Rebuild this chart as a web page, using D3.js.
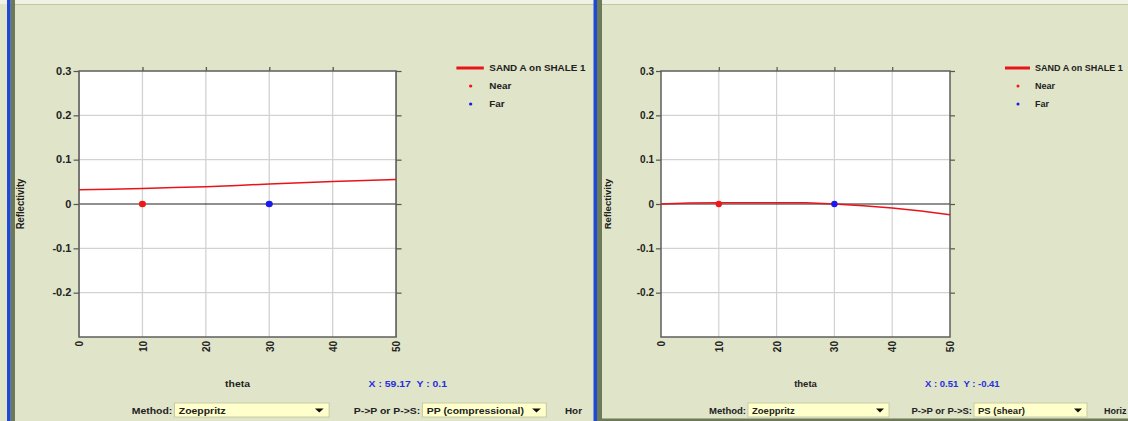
<!DOCTYPE html>
<html><head><meta charset="utf-8">
<script src="https://cdn.jsdelivr.net/npm/d3@7"></script>
<style>
body{margin:0;background:#E0E4C8;}
svg{display:block;}
text{font-family:"Liberation Sans",Arial,sans-serif;font-weight:bold;}
</style>
</head><body>
<svg id="c" width="1128" height="421"></svg>
<script>
// ---- data ----
const thetaDeg = [0,5,10,15,20,25,30,35,40,45,50];
const ppReflectivity = [0.032,0.033,0.035,0.037,0.039,0.042,0.045,0.048,0.051,0.053,0.055];
const psReflectivity = [0.000,0.002,0.003,0.003,0.003,0.003,0.000,-0.004,-0.009,-0.016,-0.024];
const nearTheta = 10, farTheta = 30;
const nearFarReflectivity = [0, 0];
const xTickValues = [0,10,20,30,40,50];
const yTickValues = [0.3,0.2,0.1,0,-0.1,-0.2];
const legendLabels = ["SAND A on SHALE 1","Near","Far"];
const cursorReadouts = ["X : 59.17  Y : 0.1","X : 0.51  Y : -0.41"];
const waveModes = ["PP (compressional)","PS (shear)"];
const methodName = "Zoeppritz";
const trailingLabels = ["Hor","Horiz"];

const svg = d3.select("#c");
const BG = "#E0E4C8";
svg.append("rect").attr("width",1128).attr("height",421).attr("fill",BG);
// top tab strip
svg.append("rect").attr("x",0).attr("y",0).attr("width",1128).attr("height",4).attr("fill","#F1F2E6");
svg.append("line").attr("x1",15).attr("x2",1128).attr("y1",4.5).attr("y2",4.5).attr("stroke","#C3C79C").attr("stroke-width",1);

const fmt = d => d === 0 ? "0" : String(d);

function drawPanel(g, id, values, readout, mode, trailing) {
  const root = g.append("g");
  const x = d3.scaleLinear().domain([0,50]).range([59,348]);
  const y = d3.scaleLinear().domain([-0.3,0.3]).range([337,71]);
  const [x0,x1] = x.range(), [y0,y1] = y.range();

  root.append("rect").attr("x",x0).attr("y",y1).attr("width",x1-x0).attr("height",y0-y1).attr("fill","#fff");
  // grid
  root.append("g").selectAll("line").data(xTickValues.slice(1,-1)).join("line")
    .attr("x1",d=>x(d)).attr("x2",d=>x(d)).attr("y1",y1).attr("y2",y0)
    .attr("stroke","#D2D2D2").attr("stroke-width",1.2);
  root.append("g").selectAll("line").data(yTickValues.filter(d=>d!==0.3)).join("line")
    .attr("x1",x0).attr("x2",x1).attr("y1",d=>y(d)).attr("y2",d=>y(d))
    .attr("stroke",d=>d===0?"#222":"#D2D2D2").attr("stroke-width",d=>d===0?1:1.2);

  // axes
  const styleAxis = a => { a.select(".domain").remove(); a.selectAll("line").attr("stroke","#555").attr("stroke-width",1.2); };
  const left = root.append("g").attr("transform",`translate(${x0},0)`)
    .call(d3.axisLeft(y).tickValues(yTickValues).tickSize(5).tickPadding(2).tickFormat(fmt));
  styleAxis(left);
  left.selectAll("text").attr("fill","#222").style("font-size","10px");
  const right = root.append("g").attr("transform",`translate(${x1},0)`)
    .call(d3.axisRight(y).tickValues(yTickValues).tickSize(5).tickFormat(""));
  styleAxis(right);
  const top = root.append("g").attr("transform",`translate(0,${y1})`)
    .call(d3.axisTop(x).tickValues(xTickValues.slice(1,-1)).tickSize(4).tickFormat(""));
  styleAxis(top);
  const bottom = root.append("g").attr("transform",`translate(0,${y0})`)
    .call(d3.axisBottom(x).tickValues(xTickValues).tickSize(0).tickFormat(fmt));
  styleAxis(bottom);
  bottom.selectAll("text").attr("transform","rotate(-90)").attr("x",-4).attr("y",0).attr("dy","0.35em")
    .style("text-anchor","end").attr("fill","#222").style("font-size","10px");

  // plot border
  root.append("rect").attr("x",x0).attr("y",y1).attr("width",x1-x0).attr("height",y0-y1)
    .attr("fill","none").attr("stroke","#5E5E5E").attr("stroke-width",1.5);

  // curve
  const line = d3.line().x((d,i)=>x(thetaDeg[i])).y(d=>y(d));
  root.append("path").datum(values).attr("d",line).attr("fill","none").attr("stroke","#E8141B").attr("stroke-width",1.5);
  // near/far points
  root.append("circle").attr("cx",x(nearTheta)).attr("cy",y(nearFarReflectivity[0])).attr("r",3.2).attr("fill","#F01818");
  root.append("circle").attr("cx",x(farTheta)).attr("cy",y(nearFarReflectivity[1])).attr("r",3.2).attr("fill","#1A1AF0");

  // y label
  root.append("text").attr("transform",`translate(9,${y(0)}) rotate(-90)`).attr("text-anchor","middle")
    .style("font-size","9.5px").attr("fill","#222").text("Reflectivity");
  // x label
  root.append("text").attr("x",(x0+x1)/2).attr("y",387).attr("text-anchor","middle")
    .style("font-size","9.5px").attr("fill","#222").text("theta");
  // readout
  root.append("text").attr("x",323).attr("y",387).style("font-size","9.5px").attr("fill","#2430E0")
    .attr("xml:space","preserve").text(readout);

  // legend
  const lg = root.append("g");
  lg.append("line").attr("x1",403).attr("x2",428).attr("y1",68).attr("y2",68).attr("stroke","#E8141B").attr("stroke-width",3);
  lg.append("circle").attr("cx",416).attr("cy",86).attr("r",1.5).attr("fill","#F01818");
  lg.append("circle").attr("cx",416).attr("cy",104).attr("r",1.5).attr("fill","#1A1AF0");
  lg.selectAll("text").data(legendLabels).join("text")
    .attr("x",433).attr("y",(d,i)=>71+i*18).style("font-size","9px").attr("fill","#222").text(d=>d);

  // controls
  const ctl = root.append("g");
  ctl.append("text").attr("x",144).attr("y",414).attr("text-anchor","end").style("font-size","9.5px").attr("fill","#222").text("Method:");
  ctl.append("text").attr("x",370).attr("y",414).attr("text-anchor","end").style("font-size","9.5px").attr("fill","#222").text("P->P or P->S:");
  const boxes = [{x:146,w:141,t:methodName},{x:372,w:113,t:mode}];
  boxes.forEach(b=>{
    ctl.append("rect").attr("x",b.x).attr("y",403).attr("width",b.w).attr("height",14).attr("fill","#FFFFCC").attr("stroke","#C9CBA6").attr("stroke-width",1);
    ctl.append("text").attr("x",b.x+4).attr("y",414).style("font-size","9.5px").attr("fill","#222").text(b.t);
    const ax = b.x+b.w-9;
    ctl.append("path").attr("d",`M${ax-4},408.5 L${ax+4},408.5 L${ax},412.5 Z`).attr("fill","#111");
  });
  ctl.append("text").attr("x",502).attr("y",414).style("font-size","9px").attr("fill","#222").text(trailing);
}

const leftG = svg.append("g").attr("transform","translate(14.3,0) scale(1.097,1)");
drawPanel(leftG, "L", ppReflectivity, cursorReadouts[0], waveModes[0], trailingLabels[0]);
const rightG = svg.append("g").attr("transform","translate(602,0)");
drawPanel(rightG, "R", psReflectivity, cursorReadouts[1], waveModes[1], trailingLabels[1]);

// borders
svg.append("rect").attr("x",7).attr("y",0).attr("width",3.7).attr("height",421).attr("fill","#1E48D6");
svg.append("rect").attr("x",10.7).attr("y",0).attr("width",4.3).attr("height",421).attr("fill","#6C7A5A");
svg.append("rect").attr("x",593.5).attr("y",0).attr("width",3.5).attr("height",421).attr("fill","#1E48D6");
svg.append("rect").attr("x",597).attr("y",0).attr("width",5).attr("height",421).attr("fill","#6C7A5A");
svg.append("rect").attr("x",602).attr("y",418.5).attr("width",526).attr("height",2.5).attr("fill","#6C7A5A");
</script>
</body></html>
